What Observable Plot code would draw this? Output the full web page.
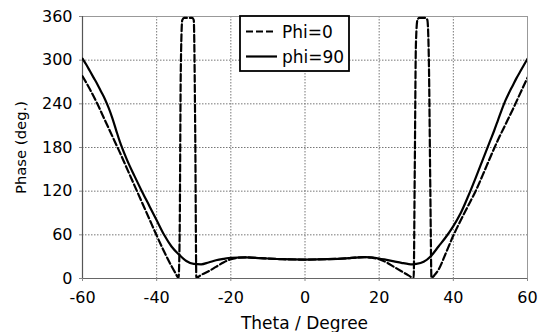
<!DOCTYPE html>
<html>
<head>
<meta charset="utf-8">
<script src="https://cdn.jsdelivr.net/npm/d3@7"></script>
<script src="https://cdn.jsdelivr.net/npm/@observablehq/plot@0.6"></script>
<style>
  html, body { margin: 0; padding: 0; background: white; }
  #wrap { position: relative; width: 547px; height: 332px; font-family: "DejaVu Sans", Verdana, sans-serif; }
  #legend { position: absolute; left: 239px; top: 15px; }
</style>
</head>
<body>
<div id="wrap"></div>
<script>
const xTicks = [-60, -40, -20, 0, 20, 40, 60];
const yTicks = [0, 60, 120, 180, 240, 300, 360];
const seriesNames = ["Phi=0", "phi=90"];
const xLabel = "Theta / Degree";
const yLabel = "Phase (deg.)";

// Phi=0 (dashed)
const theta0 = [-60,-58,-56,-54,-52,-50,-48,-46,-44,-42,-40,-38,-36,-35,-34.1,-33.8,-33.5,-33.1,-32.6,-30.4,-30.0,-29.6,-29.3,-28,-26,-24,-22,-20,-18,-16,-12,-6,0,6,12,16,18,20,22,24,26,28,29.3,29.6,29.9,30.3,30.8,32.6,33.0,33.4,33.8,34.1,35,36,38,40,42,44,46,48,50,52,54,56,58,60];
const phase0 = [278,260,240,218,196,174,151,128,105,82,59,37,17,8,1,60,285,355,358,358,355,200,1,5,10,16,22,26.5,28.5,29,28,26.5,26,26.5,28,29.5,28.5,26.5,22,16,10,4,0.5,150,320,355,358,358,355,300,120,1,5,12,35,59,80,100,120,143,167,190,211,232,254,276];

// phi=90 (solid)
const theta90 = [-60,-59,-58,-57,-56,-55,-54,-53,-52,-51,-50,-48,-46,-44,-42,-40,-38,-36,-34,-32,-30,-28,-26,-24,-22,-20,-16,-12,-6,0,6,12,16,18,20,22,24,26,28,29,30,32,34,36,38,40,42,44,46,48,50,51,52,53,54,55,56,57,58,59,60];
const phase90 = [302,294,285,276,267,257,247,235,221,205,189,163,141,120,100,80,60,44,33,24,20,19.5,22,25,27,28.5,29,28,26.5,26,26.5,28,29.5,29,27.5,25.5,23.5,21.5,19.8,19.5,20,23,31,44,57,72,90,113,138,164,190,203,217,231,244,255,265,275,284,293,302];

const data0 = theta0.map((t, i) => ({theta: t, phase: phase0[i]}));
const data90 = theta90.map((t, i) => ({theta: t, phase: phase90[i]}));

const gridStyle = {stroke: "#777", strokeOpacity: 1, strokeWidth: 1, strokeDasharray: "1.5,1.5"};
const fmt = d => String(d);

const chart = Plot.plot({
  width: 547,
  height: 332,
  marginLeft: 82,
  marginRight: 20,
  marginTop: 16,
  marginBottom: 54,
  style: {fontFamily: "DejaVu Sans, Verdana, sans-serif", fontSize: "16px", color: "#000", background: "white", overflow: "visible"},
  x: {domain: [-60, 60]},
  y: {domain: [0, 360]},
  marks: [
    Plot.gridX(xTicks, gridStyle),
    Plot.gridY(yTicks, gridStyle),
    Plot.frame({stroke: "#999", strokeWidth: 1}),
    Plot.ruleX([-60], {stroke: "#555", strokeWidth: 1.2}),
    Plot.ruleY([0], {stroke: "#666", strokeWidth: 1.2}),
    Plot.axisX(xTicks, {tickSize: 3, tickPadding: 10, stroke: "#888", fill: "#000", tickFormat: fmt, label: null}),
    Plot.axisY(yTicks, {tickSize: 3, tickPadding: 7, stroke: "#888", fill: "#000", tickFormat: fmt, label: null}),
    Plot.line(data90, {x: "theta", y: "phase", stroke: "#000", strokeWidth: 2.2, curve: "monotone-x", clip: true}),
    Plot.line(data0, {x: "theta", y: "phase", stroke: "#000", strokeWidth: 2.2, strokeDasharray: "7,3", curve: "monotone-x", clip: true})
  ]
});
const svg = d3.select(chart);
svg.selectAll("g[aria-label='x-axis tick label'] text, g[aria-label='y-axis tick label'] text").attr("font-size", 16);

// axis titles
svg.append("text").attr("x", 304.5).attr("y", 323).attr("dy", "0.36em").attr("text-anchor", "middle")
  .attr("font-size", 17).attr("fill", "#000").text(xLabel);
svg.append("text").attr("transform", "translate(21,147.5) rotate(-90)").attr("dy", "0.36em").attr("text-anchor", "middle")
  .attr("font-size", 14.8).attr("fill", "#000").text(yLabel);

const wrap = document.getElementById("wrap");
wrap.appendChild(chart);

// Legend
const lg = d3.select(wrap).append("svg").attr("id", "legend").attr("width", 112).attr("height", 58);
lg.append("rect").attr("x", 1).attr("y", 1).attr("width", 109).attr("height", 55)
  .attr("fill", "white").attr("stroke", "#000").attr("stroke-width", 1.8);
const styles = [{dash: "7,3", x2: 35}, {dash: null, x2: 38}];
seriesNames.forEach((name, i) => {
  const cy = 16.5 + i * 25;
  const ln = lg.append("line").attr("x1", 7).attr("x2", styles[i].x2).attr("y1", cy).attr("y2", cy)
    .attr("stroke", "#000").attr("stroke-width", 2.2);
  if (styles[i].dash) ln.attr("stroke-dasharray", styles[i].dash);
  lg.append("text").attr("x", 43).attr("y", cy).attr("dy", "0.36em")
    .attr("font-family", "DejaVu Sans, Verdana, sans-serif").attr("font-size", 17).attr("fill", "#000")
    .text(name);
});
</script>
</body>
</html>
